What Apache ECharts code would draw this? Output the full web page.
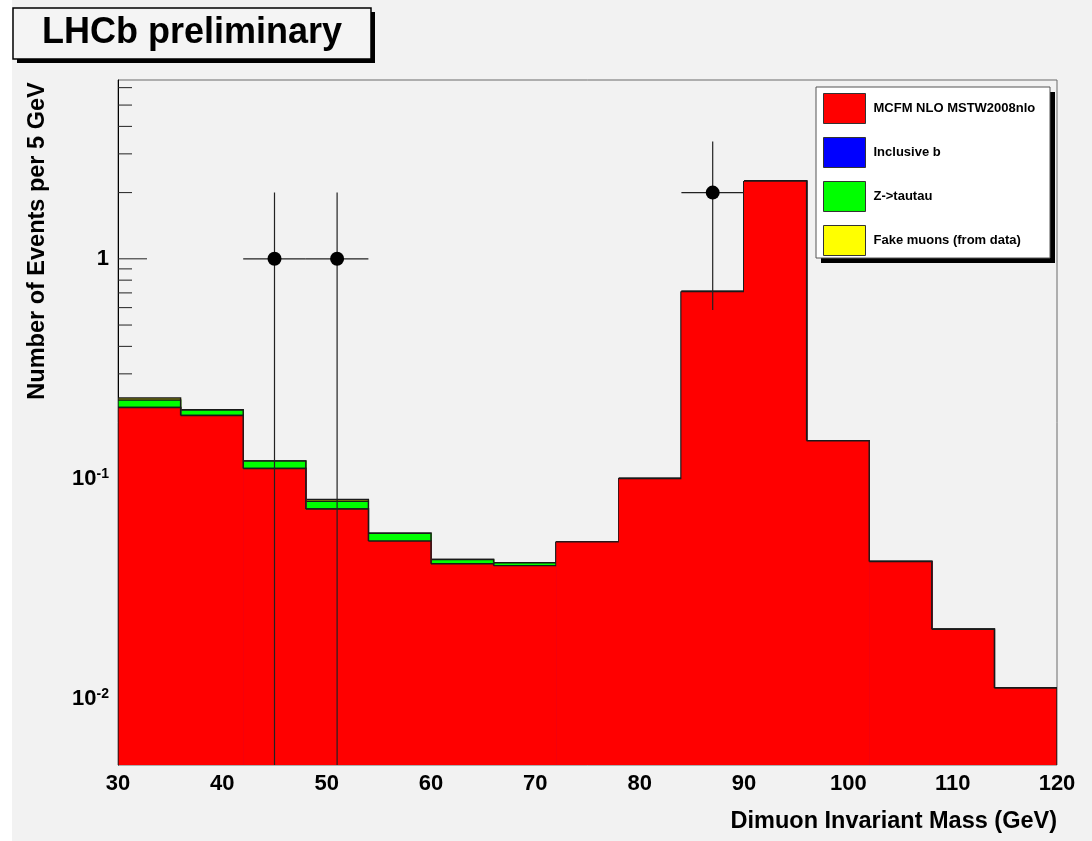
<!DOCTYPE html>
<html><head><meta charset="utf-8">
<script src="https://cdn.jsdelivr.net/npm/echarts@6/dist/echarts.min.js"></script>
<style>html,body{margin:0;padding:0;background:#fff}#c{width:1092px;height:841px}</style>
</head><body><div id="c"></div><script>
// ---- data ----
const binEdges = [30, 36, 42, 48, 54, 60, 66, 72, 78, 84, 90, 96, 102, 108, 114, 120];
const mcfm       = [0.211, 0.194, 0.1113, 0.0729, 0.0521, 0.0411, 0.0403, 0.0517, 0.1003, 0.710, 2.26, 0.149, 0.0421, 0.0207, 0.0112];
const inclusiveB = [0, 0, 0, 0, 0, 0, 0, 0, 0, 0, 0, 0, 0, 0, 0];
const zTauTau    = [0.0173, 0.0116, 0.0091, 0.0061, 0.0045, 0.0019, 0.0012, 0, 0, 0, 0, 0, 0, 0, 0];
const fakeMuons  = [0.0047, 0.0005, 0, 0.0015, 0, 0, 0, 0, 0, 0, 0, 0, 0, 0, 0];
const dataX = [45, 51, 87];
const dataY = [1, 1, 2];
const dataErrLow = [1, 1, 1.414];
const dataErrHigh = [1, 1, 1.414];
const dataHalfWidth = [3, 3, 3];
const yMajorTicks = [0.01, 0.1, 1];
const yMinorTicks = [0.006, 0.007, 0.008, 0.009, 0.02, 0.03, 0.04, 0.05, 0.06, 0.07, 0.08, 0.09,
                     0.2, 0.3, 0.4, 0.5, 0.6, 0.7, 0.8, 0.9, 2, 3, 4, 5, 6];
const seriesNames = ['MCFM NLO MSTW2008nlo', 'Inclusive b', 'Z->tautau', 'Fake muons (from data)'];
const seriesColors = ['#ff0000', '#0000ff', '#00ff00', '#ffff00'];
const X_MIN = 30, X_MAX = 120, Y_MIN = 0.005, Y_MAX = 6.5;

// ---- build ----
const layers = [mcfm, inclusiveB, zTauTau, fakeMuons];
const cum = [];
layers.forEach((arr, k) => {
  cum.push(arr.map((v, i) => v + (k > 0 ? cum[k - 1][i] : 0)));
});
const FONT = '"Liberation Sans", Arial, Helvetica, sans-serif';

function layerSeries(k) {
  const tops = cum[k];
  const data = tops.map((t, i) => [binEdges[i], binEdges[i + 1], t,
    i < tops.length - 1 ? tops[i + 1] : Y_MIN, i === 0 ? 1 : 0]);
  const color = seriesColors[k];
  return {
    type: 'custom', name: seriesNames[k], z: 3 + (3 - k) * 0.01, clip: true,
    itemStyle: { color: color },
    encode: { x: [0, 1], y: 2 },
    data: data,
    renderItem: function (params, api) {
      const lo = api.value(0), hi = api.value(1), top = api.value(2), nxt = api.value(3), first = api.value(4);
      const tl = api.coord([lo, top]);
      const br = api.coord([hi, Y_MIN]);
      const pn = api.coord([hi, Math.max(nxt, Y_MIN)]);
      const pts = [];
      if (first) pts.push([tl[0], br[1]]);
      pts.push([tl[0], tl[1]], [br[0], tl[1]], [br[0], pn[1]]);
      return {
        type: 'group', children: [
          { type: 'rect', shape: { x: tl[0], y: tl[1], width: br[0] - tl[0] + 0.6, height: br[1] - tl[1] },
            style: { fill: color } },
          { type: 'polyline', shape: { points: pts },
            style: { stroke: '#1a1a1a', lineWidth: 1.4, fill: null } }
        ]
      };
    }
  };
}

const tickData = yMajorTicks.map(v => [X_MIN, v, 29]).concat(yMinorTicks.map(v => [X_MIN, v, 14]));
const errData = dataX.map((x, i) => [x, dataY[i], x - dataHalfWidth[i], x + dataHalfWidth[i],
  dataY[i] - dataErrLow[i], dataY[i] + dataErrHigh[i]]);

const series = [
  {
    type: 'custom', name: 'ticks', z: 1, clip: true, silent: true,
    encode: { x: 0, y: 1 }, data: tickData,
    renderItem: function (params, api) {
      const p = api.coord([api.value(0), api.value(1)]);
      const len = api.value(2);
      return { type: 'line', shape: { x1: p[0], y1: p[1], x2: p[0] + len, y2: p[1] },
        style: { stroke: '#222', lineWidth: 1 } };
    }
  },
  layerSeries(3), layerSeries(2), layerSeries(1), layerSeries(0),
  {
    type: 'custom', name: 'errors', z: 10, clip: true, silent: true,
    encode: { x: 0, y: 1 }, data: errData,
    renderItem: function (params, api) {
      const x = api.value(0), y = api.value(1);
      const a = api.coord([api.value(2), y]), b = api.coord([api.value(3), y]);
      const c = api.coord([x, Math.max(api.value(4), Y_MIN)]), d = api.coord([x, api.value(5)]);
      return { type: 'group', children: [
        { type: 'line', shape: { x1: a[0], y1: a[1], x2: b[0], y2: b[1] }, style: { stroke: '#222', lineWidth: 1.2 } },
        { type: 'line', shape: { x1: c[0], y1: c[1], x2: d[0], y2: d[1] }, style: { stroke: '#222', lineWidth: 1.2 } }
      ] };
    }
  },
  {
    type: 'scatter', name: 'data', z: 11, symbol: 'circle', symbolSize: 14,
    itemStyle: { color: '#000', opacity: 1 }, silent: true,
    data: dataX.map((x, i) => [x, dataY[i]])
  }
];

const chart = echarts.init(document.getElementById('c'), null, { renderer: 'canvas' });
chart.setOption({
  animation: false,
  backgroundColor: '#f2f2f2',
  grid: { left: 118, right: 35, top: 80, bottom: 76, show: true, borderColor: '#6a6a6a', borderWidth: 1,
          backgroundColor: 'transparent' },
  xAxis: {
    type: 'value', min: X_MIN, max: X_MAX, interval: 10,
    axisLine: { show: false }, axisTick: { show: false }, splitLine: { show: false },
    axisLabel: { color: '#000', fontFamily: FONT, fontWeight: 'bold', fontSize: 22, margin: 8 }
  },
  yAxis: {
    type: 'log', logBase: 10, min: Y_MIN, max: Y_MAX,
    axisLine: { show: true, lineStyle: { color: '#000', width: 1 } },
    axisTick: { show: false }, splitLine: { show: false }, minorTick: { show: false },
    axisLabel: {
      showMinLabel: false, showMaxLabel: false, margin: 9, color: '#000',
      fontFamily: FONT, fontWeight: 'bold', fontSize: 22,
      formatter: function (v) {
        const e = Math.round(Math.log10(v));
        if (e === 0) return '1';
        return '10{sup|' + e + '}';
      },
      rich: { sup: { fontSize: 14, fontWeight: 'bold', fontFamily: FONT, color: '#000', verticalAlign: 'top', padding: [0, 0, 10, 0] } }
    }
  },
  legend: {
    orient: 'vertical', left: 816, top: 87, itemWidth: 42, itemHeight: 30, itemGap: 13, z: 20,
    padding: [6, 0, 6, 7], backgroundColor: 'transparent', borderWidth: 0,
    selectedMode: false, icon: 'rect',
    itemStyle: { borderColor: '#333', borderWidth: 1 },
    textStyle: { color: '#000', fontFamily: FONT, fontWeight: 'bold', fontSize: 13, padding: [0, 0, 0, 3] },
    data: seriesNames
  },
  graphic: [
    { type: 'rect', shape: { x: 0, y: 0, width: 12, height: 841 }, style: { fill: '#fff' }, silent: true },
    { type: 'rect', shape: { x: 17, y: 12, width: 358, height: 51 }, style: { fill: '#000' }, silent: true },
    { type: 'rect', shape: { x: 13, y: 8, width: 358, height: 51 },
      style: { fill: '#f4f4f4', stroke: '#000', lineWidth: 1.5 }, silent: true },
    { type: 'text', x: 192, y: 33, style: { text: 'LHCb preliminary', fontFamily: FONT, fontWeight: 'bold', fontSize: 36,
      fill: '#000', align: 'center', verticalAlign: 'middle', textAlign: 'center', textVerticalAlign: 'middle' } },
    { type: 'rect', z: 15, shape: { x: 821, y: 92, width: 234, height: 171 }, style: { fill: '#000' }, silent: true },
    { type: 'rect', z: 15, shape: { x: 816, y: 87, width: 234, height: 171 },
      style: { fill: '#fff', stroke: '#555', lineWidth: 1 }, silent: true },
    { type: 'text', x: 38, y: 241, rotation: Math.PI / 2, style: { text: 'Number of Events per 5 GeV', fontFamily: FONT,
      fontWeight: 'bold', fontSize: 23.5, fill: '#000', align: 'center', verticalAlign: 'middle', textAlign: 'center', textVerticalAlign: 'middle' } },
    { type: 'text', x: 1057, y: 822, style: { text: 'Dimuon Invariant Mass (GeV)', fontFamily: FONT,
      fontWeight: 'bold', fontSize: 23.5, fill: '#000', align: 'right', verticalAlign: 'middle', textAlign: 'right', textVerticalAlign: 'middle' } }
  ],
  series: series
});
</script></body></html>
